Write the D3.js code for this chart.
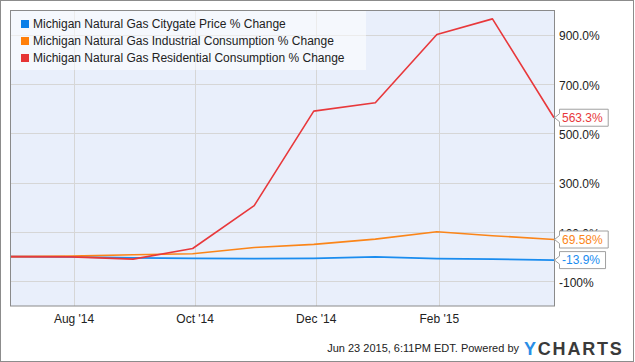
<!DOCTYPE html>
<html>
<head>
<meta charset="utf-8">
<script src="https://cdn.jsdelivr.net/npm/d3@7"></script>
<style>
  body { margin: 0; background: #fff; }
  svg { display: block; font-family: "Liberation Sans", Arial, sans-serif; }
</style>
</head>
<body>
<svg id="chart" width="635" height="362"></svg>
<script>
// monthly observations (month end)
const dates = ['2014-06-30', '2014-07-31', '2014-08-31', '2014-09-30', '2014-10-31',
               '2014-11-30', '2014-12-31', '2015-01-31', '2015-02-28', '2015-03-31'];
const citygate = [0, -1, -5, -7, -8, -7, -1, -8, -10, -13.9];
const industrial = [0, 2, 8, 12, 37, 50, 71, 101, 85, 69.58];
const residential = [0, -1, -10, 33, 207, 590, 624, 901, 964, 563.3];

const seriesNames = ['Michigan Natural Gas Citygate Price % Change',
                     'Michigan Natural Gas Industrial Consumption % Change',
                     'Michigan Natural Gas Residential Consumption % Change'];
const lastLabels = ['-13.9%', '69.58%', '563.3%'];
const xTickDates = ['2014-08-01', '2014-10-01', '2014-12-01', '2015-02-01'];
const xTickLabels = ["Aug '14", "Oct '14", "Dec '14", "Feb '15"];
const yTicks = [900, 700, 500, 300, 100, -100];
const yTickLabels = ['900.0%', '700.0%', '500.0%', '300.0%', '100.0%', '-100%'];

const lineColors = ['#1a8cef', '#fb8519', '#e8383b'];
const swatchColors = ['#0a7fe8', '#ff7f0a', '#e63535'];

const svg = d3.select('#chart');
const margin = { top: 10, right: 81, bottom: 56, left: 10 };
const W = 635, H = 362;
const innerW = W - margin.left - margin.right;
const innerH = H - margin.top - margin.bottom;

const parse = d3.timeParse('%Y-%m-%d');
const xDates = dates.map(parse);
const xTicks = xTickDates.map(parse);

const x = d3.scaleTime()
  .domain([xDates[0], xDates[xDates.length - 1]])
  .range([0, innerW]);
const y = d3.scaleLinear()
  .domain([-200, 1000])
  .range([innerH, 0]);

// outer frame
svg.append('rect')
  .attr('x', 0.5).attr('y', 0.5)
  .attr('width', W - 2).attr('height', H - 1)
  .attr('fill', '#fff')
  .attr('stroke', '#8c8c8c');

const g = svg.append('g')
  .attr('transform', `translate(${margin.left},${margin.top})`);

// plot background
g.append('rect')
  .attr('width', innerW).attr('height', innerH)
  .attr('fill', '#e9effb');

// grid
g.append('g')
  .selectAll('line')
  .data(yTicks)
  .join('line')
  .attr('x1', 0).attr('x2', innerW)
  .attr('y1', d => Math.round(y(d)) + 0.5)
  .attr('y2', d => Math.round(y(d)) + 0.5)
  .attr('stroke', '#d6d6d6');

g.append('g')
  .selectAll('line')
  .data(xTicks)
  .join('line')
  .attr('x1', d => Math.round(x(d)) + 0.5)
  .attr('x2', d => Math.round(x(d)) + 0.5)
  .attr('y1', 0).attr('y2', innerH)
  .attr('stroke', '#d6d6d6');

// legend box
const legend = g.append('g');
legend.append('rect')
  .attr('width', 356).attr('height', 60)
  .attr('fill', '#ffffff')
  .attr('fill-opacity', 0.55);
seriesNames.forEach((name, i) => {
  const row = legend.append('g')
    .attr('transform', `translate(11,${14 + i * 17})`);
  row.append('rect')
    .attr('x', 0).attr('y', -4)
    .attr('width', 8).attr('height', 8)
    .attr('fill', swatchColors[i]);
  row.append('text')
    .attr('x', 12).attr('y', 0)
    .attr('dy', '0.35em')
    .attr('font-size', 12)
    .attr('fill', '#222')
    .text(name);
});

// lines
const allSeries = [citygate, industrial, residential];
const line = d3.line()
  .x((d, i) => x(xDates[i]))
  .y(d => y(d));

allSeries.forEach((vals, i) => {
  g.append('path')
    .datum(vals)
    .attr('fill', 'none')
    .attr('stroke', lineColors[i])
    .attr('stroke-width', 1.6)
    .attr('stroke-linejoin', 'round')
    .attr('d', line);
});

// plot border
g.append('rect')
  .attr('x', 0.5).attr('y', 0.5)
  .attr('width', innerW).attr('height', innerH - 0.5)
  .attr('fill', 'none')
  .attr('stroke', '#8a8a8a');

// y axis labels (right)
const yAxis = d3.axisRight(y)
  .tickValues(yTicks)
  .tickSize(0)
  .tickPadding(5)
  .tickFormat((d, i) => yTickLabels[i]);
g.append('g')
  .attr('transform', `translate(${innerW},0)`)
  .call(yAxis)
  .call(a => a.select('.domain').remove())
  .selectAll('text')
  .attr('font-family', '"Liberation Sans", Arial, sans-serif')
  .attr('font-size', 12)
  .attr('dy', '0.42em')
  .attr('fill', '#222');

// x axis labels
const xAxis = d3.axisBottom(x)
  .tickValues(xTicks)
  .tickSize(0)
  .tickPadding(8)
  .tickFormat((d, i) => xTickLabels[i]);
g.append('g')
  .attr('transform', `translate(0,${innerH})`)
  .call(xAxis)
  .call(a => a.select('.domain').remove())
  .selectAll('text')
  .attr('font-family', '"Liberation Sans", Arial, sans-serif')
  .attr('font-size', 12)
  .attr('fill', '#222');

// end-of-line flags
allSeries.forEach((vals, i) => {
  const yy = y(vals[vals.length - 1]);
  const flag = g.append('g')
    .attr('transform', `translate(${innerW},${yy})`);
  const path = flag.append('path');
  const txt = flag.append('text')
    .attr('x', 8).attr('y', 0)
    .attr('dy', '0.36em')
    .attr('font-size', 12)
    .attr('fill', lineColors[i])
    .text(lastLabels[i]);
  const w = txt.node().getComputedTextLength() + 8;
  const h = 17;
  const L = 5.5;
  path.attr('d', `M0.5,0 L${L},-4 L${L},${-h / 2} L${L + w},${-h / 2} L${L + w},${h / 2} L${L},${h / 2} L${L},4 Z`)
    .attr('fill', '#fff')
    .attr('stroke', '#a0a0a0');
});

// footer
svg.append('text')
  .attr('x', 519).attr('y', 352)
  .attr('text-anchor', 'end')
  .attr('font-size', 11)
  .attr('fill', '#222')
  .text('Jun 23 2015, 6:11PM EDT.  Powered by');
const logo = svg.append('text')
  .attr('x', 524).attr('y', 354.5)
  .attr('font-size', 18)
  .attr('font-weight', 'bold')
  .attr('letter-spacing', 1.8);
logo.append('tspan').attr('fill', '#2a8ee6').text('Y');
logo.append('tspan').attr('fill', '#3a3a3a').text('CHARTS');
</script>
</body>
</html>
